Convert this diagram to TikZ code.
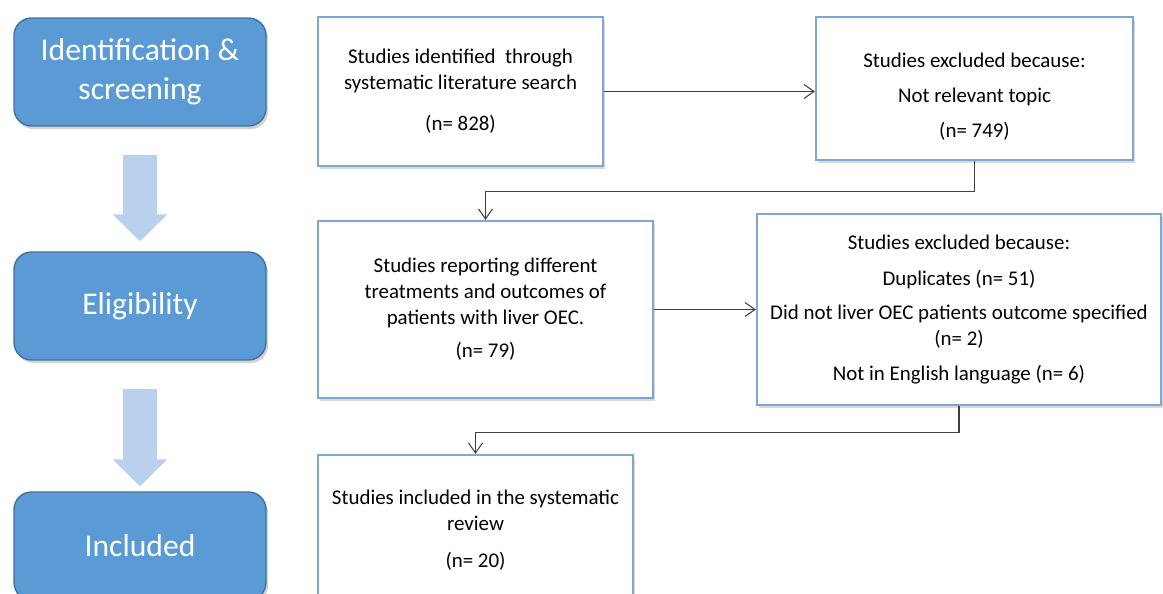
\documentclass[tikz,border=0pt]{standalone}
\usepackage{fontspec}
\setmainfont{Carlito}
\usetikzlibrary{arrows.meta,shadows}
\definecolor{stagefill}{HTML}{5B9BD5}
\definecolor{stageline}{HTML}{41719C}
\definecolor{boxline}{HTML}{7EA6D6}
\definecolor{downblue}{HTML}{B9D1EC}
\definecolor{linkgray}{HTML}{404040}

\begin{document}
\begin{tikzpicture}[x=0.02cm, y=-0.02cm,
 every node/.style={font=\fontsize{11.9}{14.7}\selectfont},
 stage/.style={draw=stageline,line width=0.8pt,fill=stagefill,rounded corners=0.35cm,text=white,
  minimum width=5.04cm,minimum height=2.16cm,align=center,font=\fontsize{18}{22}\selectfont,
  drop shadow={shadow xshift=1.2pt,shadow yshift=-1.8pt,opacity=0.35}},
 box/.style={draw=boxline,line width=1.3pt,fill=white,align=center,
  drop shadow={shadow xshift=1.2pt,shadow yshift=-1.5pt,opacity=0.3}},
 arr/.style={-{Straight Barb[length=2mm,width=2.8mm]},line width=0.6pt,draw=linkgray},
 downarr/.style={downblue,line width=0.7cm,-{Triangle[width=1.06cm,length=0.54cm]},
  shorten <=0.56cm,shorten >=0.2cm}]
\useasboundingbox (0,0) rectangle (1163,594);
% phases on the left
\node[stage] (ident) at (140,72) {Identification \&\\screening};
\node[stage] (elig) at (140,306) {Eligibility};
\node[stage] (incl) at (140,546) {Included};
\draw[downarr] (ident) -- (elig);
\draw[downarr] (elig) -- ([yshift=-0.1cm]incl.north);
% flow boxes
\node[box,minimum width=5.7cm,minimum height=2.98cm] (found) at (460.5,91.5)
 {Studies identified\ \ through\\systematic literature search\\[0.3cm](n= 828)};
\node[box,minimum width=6.34cm,minimum height=2.86cm] (topic) at (974.5,88.5)
 {\rule{0pt}{0.62cm}Studies excluded because:\\[0.18cm]Not relevant topic\\[0.2cm](n= 749)};
\node[box,minimum width=6.7cm,minimum height=3.54cm] (reported) at (485.5,309.5)
 {Studies reporting different\\treatments and outcomes of\\patients with liver OEC.\\[0.15cm](n= 79)};
\node[box,minimum width=8.08cm,minimum height=3.82cm] (excluded) at (959,309.5)
 {Studies excluded because:\\[0.2cm]Duplicates (n= 51)\\[0.18cm]Did not liver OEC patients outcome specified\\(n= 2)\\[0.18cm]Not in English language (n= 6)};
\node[box,minimum width=6.3cm,minimum height=3.0cm] (review) at (475.5,530)
 {Studies included in the systematic\\review\\[0.22cm](n= 20)};
% connectors
\draw[arr] (found.east) -- (found.east -| topic.west);
\draw[arr] (topic.south) -- ++(0,30) -| (reported.north);
\draw[arr] (reported.east) -- (reported.east -| excluded.west);
\draw[arr] (excluded.south) -- ++(0,26) -| (review.north);
\end{tikzpicture}
\end{document}
